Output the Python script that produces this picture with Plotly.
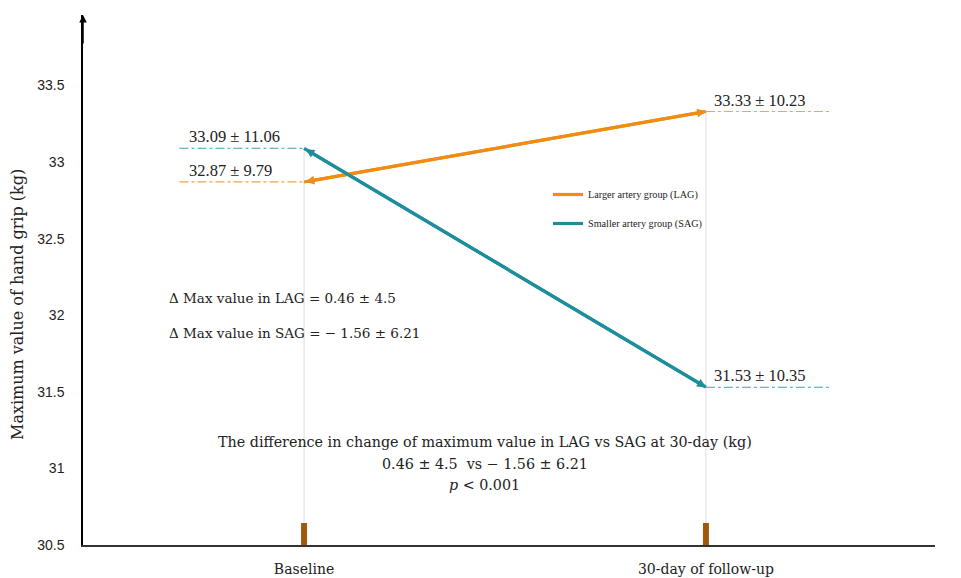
import plotly.graph_objects as go

# ---- data ----
categories = ["Baseline", "30-day of follow-up"]
cat_pos = [0, 1]
lag_values = [32.87, 33.33]
sag_values = [33.09, 31.53]
lag_labels = ["32.87 ± 9.79", "33.33 ± 10.23"]
sag_labels = ["33.09 ± 11.06", "31.53 ± 10.35"]
y_ticks = [30.5, 31, 31.5, 32, 32.5, 33, 33.5]
y_tick_text = ["30.5", "31", "31.5", "32", "32.5", "33", "33.5"]
delta_lines = ["Δ Max value in LAG = 0.46 ± 4.5", "Δ Max value in SAG = − 1.56 ± 6.21"]
diff_lines = ["The difference in change of maximum value in LAG vs SAG at 30-day (kg)",
              "0.46 ± 4.5  vs − 1.56 ± 6.21",
              "<i>p</i> < 0.001"]

ORANGE = "#F08C14"
TEAL = "#1C8E9C"
ORANGE_L = "#F5A640"
TEAL_L = "#3DA3B3"
SERIF = "DejaVu Serif"
SERIF2 = "Liberation Serif"

Y0, Y1 = 30.5, 33.96
X0, X1 = -0.55, 1.57
LEAD = 0.31

fig = go.Figure()

# drop lines
for i, c in enumerate(cat_pos):
    top = max(lag_values[i], sag_values[i])
    fig.add_trace(go.Scatter(x=[c, c], y=[Y0, top], mode="lines",
                             line=dict(color="#E3E3E3", width=1.2),
                             showlegend=False, hoverinfo="skip"))

# leader lines
for vals, col in [(lag_values, ORANGE_L), (sag_values, TEAL_L)]:
    fig.add_trace(go.Scatter(x=[cat_pos[0] - LEAD, cat_pos[0]], y=[vals[0], vals[0]],
                             mode="lines", line=dict(color=col, width=1.2, dash="dashdot"),
                             showlegend=False, hoverinfo="skip"))
    fig.add_trace(go.Scatter(x=[cat_pos[1], cat_pos[1] + LEAD], y=[vals[1], vals[1]],
                             mode="lines", line=dict(color=col, width=1.2, dash="dashdot"),
                             showlegend=False, hoverinfo="skip"))

# main lines
fig.add_trace(go.Scatter(x=cat_pos, y=lag_values, mode="lines", name="Larger artery group (LAG)",
                         line=dict(color=ORANGE, width=3.2), legendgroup="a"))
fig.add_trace(go.Scatter(x=cat_pos, y=sag_values, mode="lines", name="Smaller artery group (SAG)",
                         line=dict(color=TEAL, width=3.2), legendgroup="b"))

annotations = []
for vals, col in [(lag_values, ORANGE), (sag_values, TEAL)]:
    annotations.append(dict(x=cat_pos[1], y=vals[1], ax=cat_pos[0], ay=vals[0],
                            xref="x", yref="y", axref="x", ayref="y", text="",
                            showarrow=True, arrowhead=2, arrowside="end+start",
                            arrowsize=0.55, arrowwidth=3.2, arrowcolor=col))

# value labels
for vals, labels in [(lag_values, lag_labels), (sag_values, sag_labels)]:
    annotations.append(dict(x=cat_pos[0] - LEAD + 0.02, y=vals[0], xref="x", yref="y",
                            text=labels[0], showarrow=False, xanchor="left", yanchor="bottom",
                            yshift=0, font=dict(family=SERIF2, size=16.5, color="#222")))
    annotations.append(dict(x=cat_pos[1] + 0.015, y=vals[1], xref="x", yref="y",
                            text=labels[1], showarrow=False, xanchor="left", yanchor="bottom",
                            yshift=0, font=dict(family=SERIF2, size=16.5, color="#222")))

# delta texts
for k, t in enumerate(delta_lines):
    annotations.append(dict(x=-0.34, y=32.11 - 0.225 * k, xref="x", yref="y", text=t,
                            showarrow=False, xanchor="left", yanchor="middle",
                            font=dict(family=SERIF, size=13.5, color="#222")))
for k, t in enumerate(diff_lines):
    annotations.append(dict(x=0.45, y=31.17 - 0.138 * k, xref="x", yref="y", text=t,
                            showarrow=False, xanchor="center", yanchor="middle",
                            font=dict(family=SERIF, size=14.3, color="#222")))

# y axis title
annotations.append(dict(x=-66 / 852, y=(545 - 305) / 530, xref="paper", yref="paper",
                        text="Maximum value of hand grip (kg)", textangle=-90, showarrow=False,
                        xanchor="center", yanchor="middle",
                        font=dict(family=SERIF, size=16, color="#222")))
# y axis arrow
annotations.append(dict(x=0, y=1, xref="paper", yref="paper", ax=0, ay=30, text="",
                        showarrow=True, arrowhead=2, arrowsize=1, arrowwidth=1.5,
                        arrowcolor="black"))

shapes = []
for c in cat_pos:
    shapes.append(dict(type="rect", xref="x", yref="paper", x0=c - 3 / 402, x1=c + 3 / 402,
                       y0=0, y1=22 / 530, fillcolor="#A0580C", line=dict(width=0)))

# the page body has an 8px default margin, so the figure is offset by 8px
fig.update_layout(
    width=961, height=578,
    margin=dict(l=75, r=34, t=7, b=41, autoexpand=False),
    paper_bgcolor="white", plot_bgcolor="white",
    showlegend=True,
    legend=dict(x=(548 - 83) / 852, y=(545 - 180) / 530, xanchor="left", yanchor="top",
                bgcolor="rgba(0,0,0,0)", tracegroupgap=10,
                font=dict(family=SERIF2, size=10.2, color="#222")),
    annotations=annotations, shapes=shapes,
    xaxis=dict(range=[X0, X1], tickvals=cat_pos, ticktext=categories, showgrid=False,
               zeroline=False, showline=True, linecolor="#333", linewidth=1.5,
               ticks="", ticklabelstandoff=10, automargin=False,
               tickfont=dict(family=SERIF, size=14, color="#222")),
    yaxis=dict(range=[Y0, Y1], tickvals=y_ticks, ticktext=y_tick_text, showgrid=False,
               zeroline=False, showline=True, linecolor="black", linewidth=1.5,
               ticks="", ticklabelstandoff=14, automargin=False,
               tickfont=dict(family="Liberation Sans", size=14, color="#222")),
)

fig.write_html("out.html")
